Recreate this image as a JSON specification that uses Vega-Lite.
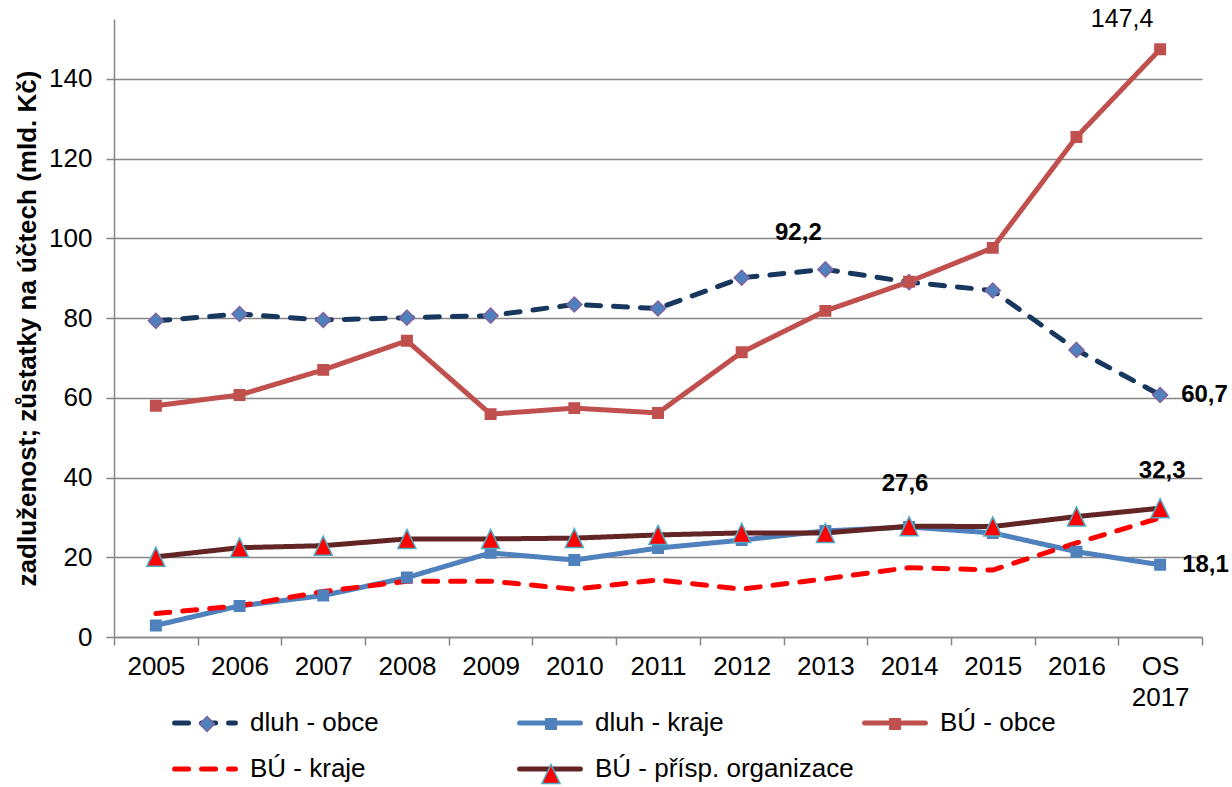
{
  "$schema": "https://vega.github.io/schema/vega-lite/v6.json",
  "width": 1088,
  "height": 618,
  "autosize": {"type": "none"},
  "padding": {"left": 114, "top": 19, "right": 30, "bottom": 150},
  "background": "white",
  "config": {
    "view": {"stroke": null},
    "font": "Liberation Sans",
    "locale": {"number": {"decimal": ",", "thousands": " ", "grouping": [3], "currency": ["", ""]}}
  },
  "data": {
    "values": [
      {"year": "2005", "series": "dluh - obce", "value": 79.3},
      {"year": "2006", "series": "dluh - obce", "value": 81.0},
      {"year": "2007", "series": "dluh - obce", "value": 79.5},
      {"year": "2008", "series": "dluh - obce", "value": 80.1},
      {"year": "2009", "series": "dluh - obce", "value": 80.6},
      {"year": "2010", "series": "dluh - obce", "value": 83.4},
      {"year": "2011", "series": "dluh - obce", "value": 82.4},
      {"year": "2012", "series": "dluh - obce", "value": 90.1},
      {"year": "2013", "series": "dluh - obce", "value": 92.2},
      {"year": "2014", "series": "dluh - obce", "value": 89.0},
      {"year": "2015", "series": "dluh - obce", "value": 86.9},
      {"year": "2016", "series": "dluh - obce", "value": 72.0},
      {"year": "OS 2017", "series": "dluh - obce", "value": 60.7},
      {"year": "2005", "series": "dluh - kraje", "value": 2.9},
      {"year": "2006", "series": "dluh - kraje", "value": 7.8},
      {"year": "2007", "series": "dluh - kraje", "value": 10.4},
      {"year": "2008", "series": "dluh - kraje", "value": 14.9},
      {"year": "2009", "series": "dluh - kraje", "value": 21.1},
      {"year": "2010", "series": "dluh - kraje", "value": 19.3},
      {"year": "2011", "series": "dluh - kraje", "value": 22.3},
      {"year": "2012", "series": "dluh - kraje", "value": 24.3},
      {"year": "2013", "series": "dluh - kraje", "value": 26.6},
      {"year": "2014", "series": "dluh - kraje", "value": 27.6},
      {"year": "2015", "series": "dluh - kraje", "value": 26.1},
      {"year": "2016", "series": "dluh - kraje", "value": 21.4},
      {"year": "OS 2017", "series": "dluh - kraje", "value": 18.1},
      {"year": "2005", "series": "BÚ - obce", "value": 58.0},
      {"year": "2006", "series": "BÚ - obce", "value": 60.7},
      {"year": "2007", "series": "BÚ - obce", "value": 67.0},
      {"year": "2008", "series": "BÚ - obce", "value": 74.3},
      {"year": "2009", "series": "BÚ - obce", "value": 55.9},
      {"year": "2010", "series": "BÚ - obce", "value": 57.4},
      {"year": "2011", "series": "BÚ - obce", "value": 56.2},
      {"year": "2012", "series": "BÚ - obce", "value": 71.4},
      {"year": "2013", "series": "BÚ - obce", "value": 81.8},
      {"year": "2014", "series": "BÚ - obce", "value": 89.1},
      {"year": "2015", "series": "BÚ - obce", "value": 97.6},
      {"year": "2016", "series": "BÚ - obce", "value": 125.4},
      {"year": "OS 2017", "series": "BÚ - obce", "value": 147.4},
      {"year": "2005", "series": "BÚ - kraje", "value": 5.9},
      {"year": "2006", "series": "BÚ - kraje", "value": 7.8},
      {"year": "2007", "series": "BÚ - kraje", "value": 11.4},
      {"year": "2008", "series": "BÚ - kraje", "value": 14.0},
      {"year": "2009", "series": "BÚ - kraje", "value": 14.0},
      {"year": "2010", "series": "BÚ - kraje", "value": 12.0},
      {"year": "2011", "series": "BÚ - kraje", "value": 14.3},
      {"year": "2012", "series": "BÚ - kraje", "value": 12.0},
      {"year": "2013", "series": "BÚ - kraje", "value": 14.6},
      {"year": "2014", "series": "BÚ - kraje", "value": 17.4},
      {"year": "2015", "series": "BÚ - kraje", "value": 16.8},
      {"year": "2016", "series": "BÚ - kraje", "value": 23.6},
      {"year": "OS 2017", "series": "BÚ - kraje", "value": 29.9},
      {"year": "2005", "series": "BÚ - přísp. organizace", "value": 20.1},
      {"year": "2006", "series": "BÚ - přísp. organizace", "value": 22.4},
      {"year": "2007", "series": "BÚ - přísp. organizace", "value": 22.9},
      {"year": "2008", "series": "BÚ - přísp. organizace", "value": 24.6},
      {"year": "2009", "series": "BÚ - přísp. organizace", "value": 24.6},
      {"year": "2010", "series": "BÚ - přísp. organizace", "value": 24.8},
      {"year": "2011", "series": "BÚ - přísp. organizace", "value": 25.6},
      {"year": "2012", "series": "BÚ - přísp. organizace", "value": 26.1},
      {"year": "2013", "series": "BÚ - přísp. organizace", "value": 26.1},
      {"year": "2014", "series": "BÚ - přísp. organizace", "value": 27.8},
      {"year": "2015", "series": "BÚ - přísp. organizace", "value": 27.7},
      {"year": "2016", "series": "BÚ - přísp. organizace", "value": 30.2},
      {"year": "OS 2017", "series": "BÚ - přísp. organizace", "value": 32.3}
    ]
  },
  "encoding": {
    "x": {
      "field": "year", "type": "ordinal", "sort": null,
      "scale": {"type": "band", "paddingInner": 0, "paddingOuter": 0},
      "axis": {
        "title": null, "tickBand": "extent", "labelAngle": 0, "labelFontSize": 26, "labelColor": "black",
        "labelPadding": 8, "tickSize": 8, "tickColor": "#868686", "tickWidth": 1.5,
        "domainColor": "#868686", "domainWidth": 1.5, "grid": false,
        "labelExpr": "datum.value == 'OS 2017' ? ['OS', '2017'] : datum.value", "labelLineHeight": 31
      }
    },
    "y": {
      "field": "value", "type": "quantitative",
      "scale": {"domain": [0, 155], "nice": false},
      "title": "zadluženost; zůstatky na účtech (mld. Kč)",
      "axis": {
        "values": [0, 20, 40, 60, 80, 100, 120, 140], "grid": true, "gridColor": "#868686", "gridWidth": 1.5,
        "domainColor": "#868686", "domainWidth": 1.5, "tickColor": "#868686", "tickSize": 8, "tickWidth": 1.5,
        "labelFontSize": 26, "labelColor": "black", "labelPadding": 14,
        "titleFontSize": 26, "titleFontWeight": "bold", "titleColor": "black",
        "titleX": -79, "titleY": 309, "titleAngle": -90, "titleAlign": "center", "titleBaseline": "alphabetic"
      }
    }
  },
  "layer": [
    {
      "mark": {"type": "line", "strokeWidth": 5, "interpolate": "linear", "strokeCap": "round", "strokeJoin": "round"},
      "encoding": {
        "color": {
          "field": "series", "type": "nominal",
          "scale": {
            "domain": ["dluh - obce", "dluh - kraje", "BÚ - obce", "BÚ - kraje", "BÚ - přísp. organizace"],
            "range": ["#17375E", "#4F81BD", "#C0504D", "#FF0000", "#632523"]
          },
          "legend": {
            "orient": "none", "legendX": 58, "legendY": 671, "direction": "horizontal", "columns": 3,
            "gridAlign": "all", "title": null, "symbolType": "stroke", "symbolSize": 3700, "symbolStrokeWidth": 5,
            "labelFontSize": 26, "labelColor": "black", "labelOffset": 12, "columnPadding": 0,
            "rowPadding": -4, "padding": 0, "labelLimit": 400,
            "encode": {"symbols": {"update": {"strokeCap": {"value": "round"}}}}
          }
        },
        "strokeDash": {
          "field": "series", "type": "nominal",
          "scale": {
            "domain": ["dluh - obce", "dluh - kraje", "BÚ - obce", "BÚ - kraje", "BÚ - přísp. organizace"],
            "range": [[14, 13], [1, 0], [1, 0], [14, 13], [1, 0]]
          },
          "legend": {
            "orient": "none", "legendX": 58, "legendY": 671, "direction": "horizontal", "columns": 3,
            "gridAlign": "all", "title": null, "symbolType": "stroke", "symbolSize": 3700, "symbolStrokeWidth": 5,
            "labelFontSize": 26, "labelColor": "black", "labelOffset": 12, "columnPadding": 0,
            "rowPadding": -4, "padding": 0, "labelLimit": 400,
            "encode": {"symbols": {"update": {"strokeCap": {"value": "round"}}}}
          }
        }
      }
    },
    {
      "transform": [{"filter": "datum.series != 'BÚ - kraje'"}],
      "mark": {"type": "point", "filled": true, "size": 361, "strokeWidth": 1.5, "opacity": 1},
      "encoding": {
        "shape": {
          "field": "series", "type": "nominal",
          "scale": {
            "domain": ["dluh - obce", "dluh - kraje", "BÚ - obce", "BÚ - kraje", "BÚ - přísp. organizace"],
            "range": ["M0,-0.79L0.79,0L0,0.79L-0.79,0Z", "M-0.55,-0.55H0.55V0.55H-0.55Z", "M-0.55,-0.55H0.55V0.55H-0.55Z", "M0,0", "M0,-1L0.95,1L-0.95,1Z"]
          },
          "legend": {
            "orient": "none", "legendX": 80, "legendY": 692, "direction": "horizontal", "columns": 3,
            "gridAlign": "all", "title": null, "symbolSize": 361, "symbolStrokeWidth": 1.5,
            "labelFontSize": 26, "labelExpr": "''", "labelOffset": 0, "columnPadding": 318,
            "rowPadding": 24, "padding": 0
          }
        },
        "fill": {
          "field": "series", "type": "nominal",
          "scale": {
            "domain": ["dluh - obce", "dluh - kraje", "BÚ - obce", "BÚ - kraje", "BÚ - přísp. organizace"],
            "range": ["#4F81BD", "#4F81BD", "#C0504D", "transparent", "#FF0000"]
          },
          "legend": {
            "orient": "none", "legendX": 80, "legendY": 692, "direction": "horizontal", "columns": 3,
            "gridAlign": "all", "title": null, "symbolSize": 361, "symbolStrokeWidth": 1.5,
            "labelFontSize": 26, "labelExpr": "''", "labelOffset": 0, "columnPadding": 318,
            "rowPadding": 24, "padding": 0
          }
        },
        "stroke": {
          "field": "series", "type": "nominal",
          "scale": {
            "domain": ["dluh - obce", "dluh - kraje", "BÚ - obce", "BÚ - kraje", "BÚ - přísp. organizace"],
            "range": ["#8064A2", "#4F81BD", "#C0504D", "transparent", "#4BACC6"]
          },
          "legend": {
            "orient": "none", "legendX": 80, "legendY": 692, "direction": "horizontal", "columns": 3,
            "gridAlign": "all", "title": null, "symbolSize": 361, "symbolStrokeWidth": 1.5,
            "labelFontSize": 26, "labelExpr": "''", "labelOffset": 0, "columnPadding": 318,
            "rowPadding": 24, "padding": 0
          }
        }
      }
    },
    {
      "transform": [{"filter": "datum.series == 'BÚ - obce' && datum.year == 'OS 2017'"}],
      "mark": {"type": "text", "fontSize": 25, "fontWeight": "normal", "color": "black", "baseline": "middle", "align": "center", "dx": -38, "dy": -30},
      "encoding": {"text": {"field": "value", "type": "quantitative", "format": ".1f"}}
    },
    {
      "transform": [{"filter": "datum.series == 'dluh - obce' && datum.year == '2013'"}],
      "mark": {"type": "text", "fontSize": 24, "fontWeight": "bold", "color": "black", "baseline": "middle", "align": "center", "dx": -27, "dy": -36},
      "encoding": {"text": {"field": "value", "type": "quantitative", "format": ".1f"}}
    },
    {
      "transform": [{"filter": "datum.series == 'dluh - obce' && datum.year == 'OS 2017'"}],
      "mark": {"type": "text", "fontSize": 24, "fontWeight": "bold", "color": "black", "baseline": "middle", "align": "left", "dx": 21, "dy": 0},
      "encoding": {"text": {"field": "value", "type": "quantitative", "format": ".1f"}}
    },
    {
      "transform": [{"filter": "datum.series == 'dluh - kraje' && datum.year == '2014'"}],
      "mark": {"type": "text", "fontSize": 24, "fontWeight": "bold", "color": "black", "baseline": "middle", "align": "center", "dx": -4, "dy": -43},
      "encoding": {"text": {"field": "value", "type": "quantitative", "format": ".1f"}}
    },
    {
      "transform": [{"filter": "datum.series == 'BÚ - přísp. organizace' && datum.year == 'OS 2017'"}],
      "mark": {"type": "text", "fontSize": 24, "fontWeight": "bold", "color": "black", "baseline": "middle", "align": "center", "dx": 2, "dy": -37},
      "encoding": {"text": {"field": "value", "type": "quantitative", "format": ".1f"}}
    },
    {
      "transform": [{"filter": "datum.series == 'dluh - kraje' && datum.year == 'OS 2017'"}],
      "mark": {"type": "text", "fontSize": 24, "fontWeight": "bold", "color": "black", "baseline": "middle", "align": "left", "dx": 22, "dy": 0},
      "encoding": {"text": {"field": "value", "type": "quantitative", "format": ".1f"}}
    }
  ],
  "resolve": {
    "legend": {"color": "independent", "strokeDash": "independent", "shape": "independent", "fill": "independent", "stroke": "independent"}
  }
}
